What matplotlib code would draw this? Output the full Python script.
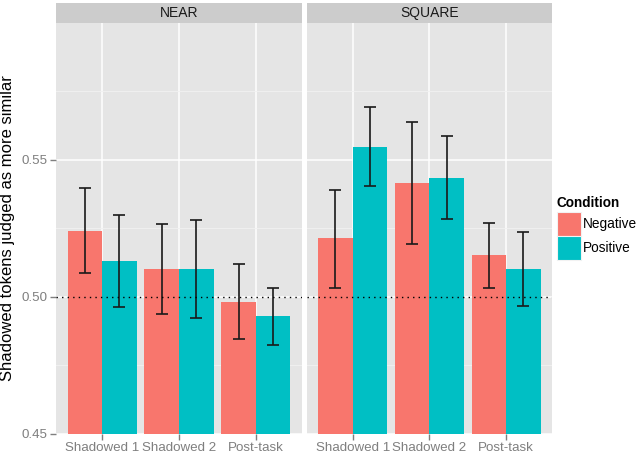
import numpy as np
import matplotlib.pyplot as plt
from matplotlib.patches import Rectangle
from matplotlib.ticker import FixedLocator

plt.rcParams['font.family'] = ['Liberation Sans', 'DejaVu Sans']

panels = ['NEAR', 'SQUARE']
phases = ['Shadowed 1', 'Shadowed 2', 'Post-task']
conditions = ['Negative', 'Positive']
colors = ['#F8766D', '#00BFC4']

# means per panel, per condition (order of phases)
near_neg = [0.5242, 0.5100, 0.4982]
near_pos = [0.5131, 0.5102, 0.4931]
square_neg = [0.5213, 0.5416, 0.5152]
square_pos = [0.5546, 0.5434, 0.5101]

# error bar lower / upper ends
near_neg_lo = [0.5086, 0.4937, 0.4845]
near_neg_hi = [0.5398, 0.5265, 0.5119]
near_pos_lo = [0.4962, 0.4923, 0.4826]
near_pos_hi = [0.5300, 0.5280, 0.5034]
square_neg_lo = [0.5034, 0.5192, 0.5033]
square_neg_hi = [0.5390, 0.5639, 0.5269]
square_pos_lo = [0.5403, 0.5285, 0.4965]
square_pos_hi = [0.5692, 0.5586, 0.5237]

means = {'NEAR': [near_neg, near_pos], 'SQUARE': [square_neg, square_pos]}
lows = {'NEAR': [near_neg_lo, near_pos_lo], 'SQUARE': [square_neg_lo, square_pos_lo]}
highs = {'NEAR': [near_neg_hi, near_pos_hi], 'SQUARE': [square_neg_hi, square_pos_hi]}

W, H = 640, 458
fig = plt.figure(figsize=(W / 100, H / 100), dpi=100)

# pixel helpers (origin top-left)
def fx(px):
    return px / W

def fy(py):
    return 1 - py / H

panel_x = [(56, 302), (306.7, 552)]
p_top, p_bot = 22.7, 434
s_top = 3.3

x = np.arange(1, len(phases) + 1)
bw = 0.45

for k, name in enumerate(panels):
    x0, x1 = panel_x[k]
    ax = fig.add_axes([fx(x0), fy(p_bot), (x1 - x0) / W, (p_bot - p_top) / H])
    ax.set_facecolor('#E5E5E5')
    ax.set_xlim(0.4, 3.6)
    ax.set_ylim(0.45, 0.60)
    ax.yaxis.set_major_locator(FixedLocator([0.45, 0.50, 0.55]))
    ax.yaxis.set_minor_locator(FixedLocator([0.475, 0.525, 0.575]))
    ax.yaxis.set_major_formatter('{x:.2f}')
    ax.set_xticks(x)
    ax.set_xticklabels(phases)
    ax.grid(which='major', color='white', lw=1.1, zorder=0)
    ax.grid(which='minor', axis='y', color='#F2F2F2', lw=0.6, zorder=0)
    ax.set_axisbelow(True)
    for sp in ax.spines.values():
        sp.set_visible(False)
    ax.tick_params(axis='both', which='major', colors='#7F7F7F', labelcolor='#7F7F7F',
                   labelsize=9.6, length=4, width=1, pad=2)
    ax.tick_params(axis='y', which='minor', length=0)
    if k == 0:
        ax.set_ylabel('Shadowed tokens judged as more similar', fontsize=12, color='black', labelpad=5)
    else:
        ax.tick_params(axis='y', which='major', left=False, labelleft=False)

    for c in range(2):
        xs = x + (c - 0.5) * bw
        m = np.array(means[name][c])
        ax.bar(xs, m - 0.45, bottom=0.45, width=bw, color=colors[c], zorder=2)
        lo = np.array(lows[name][c])
        hi = np.array(highs[name][c])
        ax.errorbar(xs, m, yerr=[m - lo, hi - m], fmt='none', ecolor='#1a1a1a',
                    elinewidth=1.2, capsize=4, capthick=1.2, zorder=3)
    ax.axhline(0.50, color='black', ls=(0, (1, 3)), lw=1.0, zorder=4)

    sax = fig.add_axes([fx(x0), fy(p_top), (x1 - x0) / W, (p_top - s_top) / H])
    sax.set_facecolor('#CCCCCC')
    sax.set_xticks([])
    sax.set_yticks([])
    for sp in sax.spines.values():
        sp.set_visible(False)
    sax.text(0.5, 0.5, name, ha='center', va='center', fontsize=10, color='#1a1a1a',
             transform=sax.transAxes)

# legend drawn by hand to match ggplot key sizes
fig.text(fx(556.5), fy(203), 'Condition', fontsize=9.8, fontweight='bold',
         ha='left', va='center')
key = 24
for i, lab in enumerate(conditions):
    top = 212 + i * key
    fig.add_artist(Rectangle((fx(556.5), fy(top + key)), key / W, key / H,
                             transform=fig.transFigure, facecolor=colors[i],
                             edgecolor='#F2F2F2', lw=0.8))
    fig.text(fx(583), fy(top + key / 2), lab, fontsize=9.8, ha='left', va='center')

fig.savefig('out.png', dpi=100)
